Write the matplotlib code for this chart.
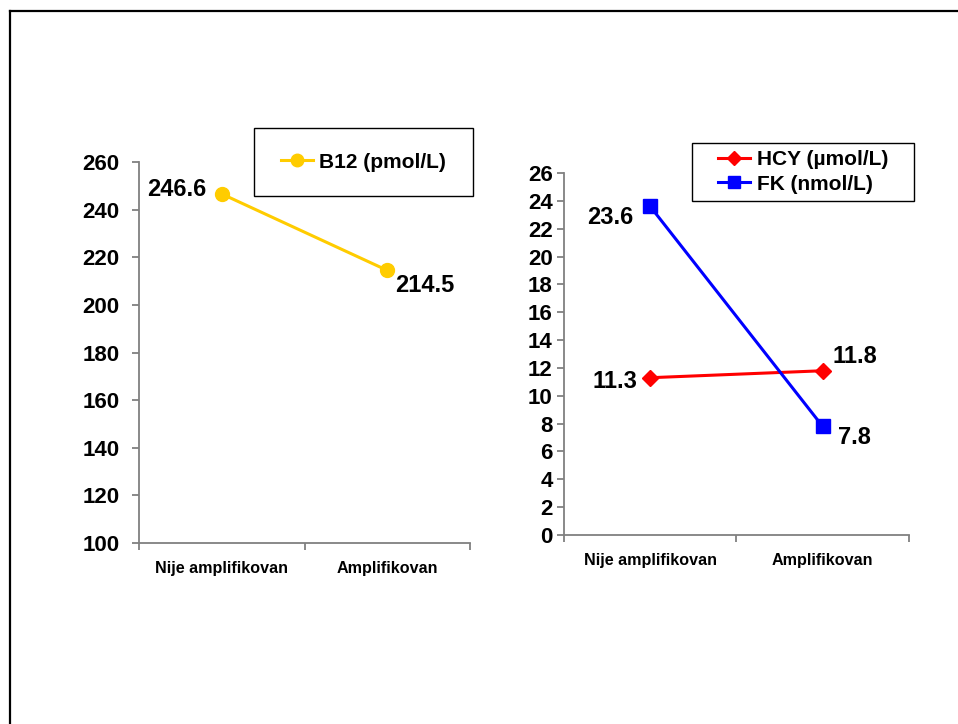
import numpy as np
import matplotlib.pyplot as plt
from matplotlib.lines import Line2D
from matplotlib.patches import Rectangle

plt.rcParams['font.family'] = ['Liberation Sans', 'DejaVu Sans']
plt.rcParams['font.weight'] = 'bold'

groups = ["Nije amplifikovan", "Amplifikovan"]
b12 = [246.6, 214.5]
hcy = [11.3, 11.8]
fk = [23.6, 7.8]

b12_ticks = list(range(100, 261, 20))
right_ticks = list(range(0, 27, 2))

GRAY = "#808080"


def style_axes(ax, ticks, ylim, ypad):
    ax.set_xlim(-0.5, 1.5)
    ax.set_ylim(*ylim)
    ax.set_yticks(ticks)
    ax.set_yticklabels([str(t) for t in ticks], fontsize=16, fontweight="bold")
    for s in ["top", "right"]:
        ax.spines[s].set_visible(False)
    for s in ["left", "bottom"]:
        ax.spines[s].set_color(GRAY)
        ax.spines[s].set_linewidth(1.3)
    ax.tick_params(axis="y", colors=GRAY, labelcolor="black", length=5, width=1.3, pad=ypad)
    # category separators as major ticks, names as minor ticks
    ax.set_xticks([-0.5, 0.5, 1.5])
    ax.set_xticklabels([])
    ax.tick_params(axis="x", which="major", colors=GRAY, length=5, width=1.3)
    ax.set_xticks([0, 1], minor=True)
    ax.set_xticklabels(groups, minor=True, fontsize=11.6, fontweight="bold")
    ax.tick_params(axis="x", which="minor", length=0, pad=13)


fig = plt.figure(figsize=(9.58, 7.24), dpi=100)

# left panel: B12
ax1 = fig.add_axes([0.1451, 0.25, 0.3455, 0.5262])
x = np.arange(len(groups))
ax1.plot(x, b12, color="#FFCC00", lw=2.2, marker="o", ms=10, label="B12 (pmol/L)", clip_on=False)
style_axes(ax1, b12_ticks, (100, 260), 9)
ax1.annotate(f"{b12[0]:.1f}", (x[0], b12[0]), xytext=(-11, 3), textcoords="offset points",
             ha="right", va="center", fontsize=17, fontweight="bold")
ax1.annotate(f"{b12[1]:.1f}", (x[1], b12[1]), xytext=(6, -11), textcoords="offset points",
             ha="left", va="center", fontsize=17, fontweight="bold")

# right panel: HCY and FK
ax2 = fig.add_axes([0.5887, 0.261, 0.3601, 0.5])
ax2.plot(x, hcy, color="#FF0000", lw=2.2, marker="D", ms=8, label="HCY (\u00b5mol/L)", clip_on=False)
ax2.plot(x, fk, color="#0000FF", lw=2.2, marker="s", ms=10, label="FK (nmol/L)", clip_on=False)
style_axes(ax2, right_ticks, (0, 26), 3)
offsets = {(0, "hcy"): (-9, -3, "right"), (1, "hcy"): (7, 10, "left"),
           (0, "fk"): (-12, -8, "right"), (1, "fk"): (11, -8, "left")}
for name, vals in [("hcy", hcy), ("fk", fk)]:
    for i, v in enumerate(vals):
        dx, dy, ha = offsets[(i, name)]
        ax2.annotate(f"{v:.1f}", (x[i], v), xytext=(dx, dy), textcoords="offset points",
                     ha=ha, va="center", fontsize=17, fontweight="bold")

# legend boxes
W, H = 958, 724
fig.patches.append(Rectangle((254 / W, 1 - 196 / H), 219 / W, 68 / H, transform=fig.transFigure,
                             fill=False, edgecolor="black", lw=1.0))
fig.patches.append(Rectangle((692 / W, 1 - 201 / H), 222 / W, 58 / H, transform=fig.transFigure,
                             fill=False, edgecolor="black", lw=1.0))
ax1.legend(loc="center", bbox_to_anchor=(363.5 / W, 1 - 162 / H), bbox_transform=fig.transFigure,
           frameon=False, fontsize=15, handlelength=1.55, handletextpad=0.3, markerscale=0.9)
ax2.legend(loc="center", bbox_to_anchor=(803 / W, 1 - 172 / H), bbox_transform=fig.transFigure,
           frameon=False, fontsize=15, handlelength=1.55, handletextpad=0.3, labelspacing=0.25,
           markerscale=0.9)

# outer frame (left and top edges)
fig.add_artist(Line2D([10 / W, 10 / W], [0, 1 - 11 / H], color="black", lw=1.6, transform=fig.transFigure))
fig.add_artist(Line2D([10 / W, 1], [1 - 11 / H, 1 - 11 / H], color="black", lw=1.6, transform=fig.transFigure))

fig.savefig("out.png", dpi=100)
